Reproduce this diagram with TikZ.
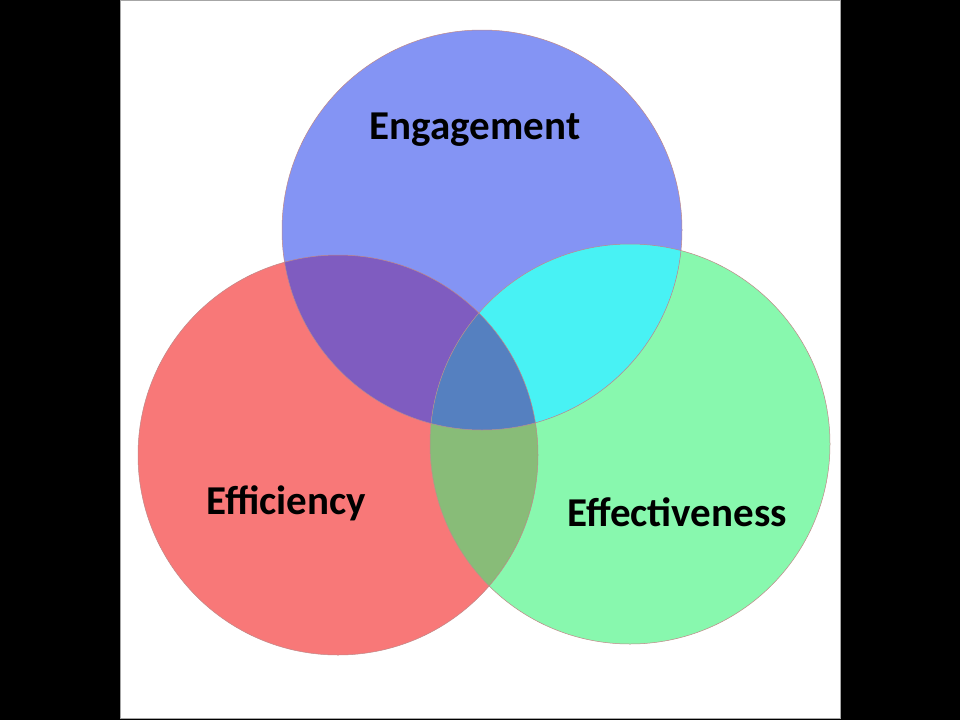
\documentclass[tikz,border=0pt]{standalone}
\usepackage{fontspec}
\setmainfont{Carlito}
\usepackage{xcolor}
\usepackage{tikz}
\definecolor{effred}{HTML}{F87878}
\definecolor{engblue}{HTML}{8494F4}
\definecolor{effgreen}{HTML}{88F8AE}
\definecolor{redblue}{HTML}{7F5CC0}
\definecolor{bluegreen}{HTML}{48F2F4}
\definecolor{redgreen}{HTML}{88BC78}
\definecolor{allthree}{HTML}{5580C0}
\definecolor{rimline}{HTML}{C08888}

\begin{document}
\begin{tikzpicture}[x=1pt, y=-1pt,
  rim/.style={draw=rimline, line width=0.5pt},
  label/.style={font=\fontsize{41}{44}\selectfont\bfseries, text=black, inner sep=0pt}]
  % frame
  \fill[black] (0,0) rectangle (960,720);
  \fill[white, draw=gray!70, line width=0.8pt] (120,0.5) rectangle (840,718);
  \useasboundingbox (0,0) rectangle (960,720);
  % centres
  \coordinate (cred) at (338,455);
  \coordinate (cblue) at (482,230);
  \coordinate (cgreen) at (630,444);
  % circles
  \fill[effred] (cred) circle (200);
  \fill[effgreen] (cgreen) circle (200);
  \fill[engblue] (cblue) circle (200);
  % overlaps
  \begin{scope}
    \clip (cred) circle (200);
    \fill[redblue] (cblue) circle (200);
    \fill[redgreen] (cgreen) circle (200);
  \end{scope}
  \begin{scope}
    \clip (cblue) circle (200);
    \fill[bluegreen] (cgreen) circle (200);
    \clip (cgreen) circle (200);
    \fill[allthree] (cred) circle (200);
  \end{scope}
  \draw[rim] (cred) circle (200);
  \draw[rim] (cgreen) circle (200);
  \draw[rim] (cblue) circle (200);
  % labels
  \node (engagement) [label] at (475,130) {Engagement};
  \node (efficiency) [label] at (286,503) {Efficiency};
  \node (effectiveness) [label] at (677,512) {Effectiveness};
\end{tikzpicture}
\end{document}
